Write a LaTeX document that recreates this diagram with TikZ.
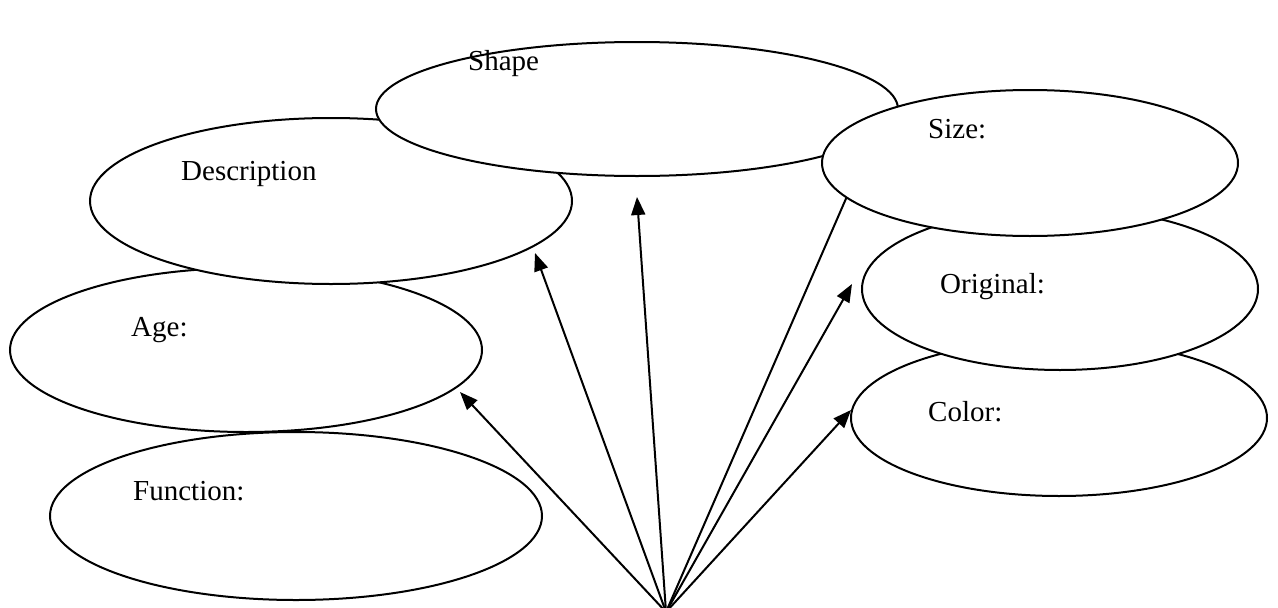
\documentclass[tikz,border=0pt]{standalone}
\usepackage{fontspec}
\setmainfont{Liberation Serif}
\usetikzlibrary{shapes.geometric,arrows.meta}
\begin{document}
\begin{tikzpicture}[x=1pt,y=-1pt,
  oval/.style={ellipse,draw,fill=white,line width=2pt,inner sep=0pt,outer sep=0pt},
  lbl/.style={anchor=base west,inner sep=0pt,font=\fontsize{29}{35}\selectfont},
  arr/.style={line width=2pt,-{Triangle[length=18pt,width=14pt]}},
  ray/.style={line width=2pt}]
\useasboundingbox (0,0) rectangle (1278,608);

% common starting point of all rays and their end points
\coordinate (hub) at (666,612);
\coordinate (tAge) at (460,392);
\coordinate (tDesc) at (535,253);
\coordinate (tShape) at (637,197);
\coordinate (tSize) at (848,194);
\coordinate (tOrig) at (852,284);
\coordinate (tColor) at (851,410);

\draw[arr] (hub) -- (tAge);
\draw[arr] (hub) -- (tDesc);
\draw[arr] (hub) -- (tShape);
\draw[ray] (hub) -- (tSize);
\draw[arr] (hub) -- (tOrig);
\draw[arr] (hub) -- (tColor);

% ellipses, later ones cover earlier ones
\node[oval,minimum width=472pt,minimum height=164pt] (age) at (246,350) {};
\node[oval,minimum width=482pt,minimum height=166pt] (desc) at (331,201) {};
\node[oval,minimum width=522pt,minimum height=134pt] (shape) at (637,109) {};
\node[oval,minimum width=416pt,minimum height=156pt] (color) at (1059,418) {};
\node[oval,minimum width=396pt,minimum height=162pt] (orig) at (1060,289) {};
\node[oval,minimum width=416pt,minimum height=146pt] (size) at (1030,163) {};
\node[oval,minimum width=492pt,minimum height=168pt] (func) at (296,516) {};

% labels
\node[lbl] (lShape) at (468,70) {Shape};
\node[lbl] (lDesc) at (181,180) {Description};
\node[lbl] (lSize) at (928,138) {Size:};
\node[lbl] (lOrig) at (940,293) {Original:};
\node[lbl] (lAge) at (131,336) {Age:};
\node[lbl] (lColor) at (928,421) {Color:};
\node[lbl] (lFunc) at (133,500) {Function:};
\end{tikzpicture}
\end{document}
